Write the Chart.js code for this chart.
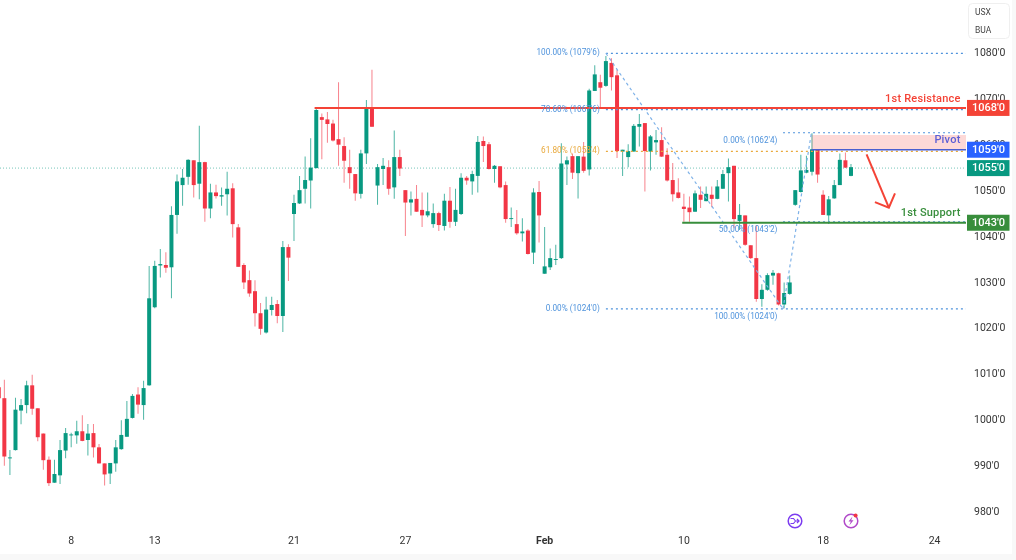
<!DOCTYPE html>
<html><head><meta charset="utf-8">
<style>html,body{margin:0;padding:0;background:#f8f8f8;overflow:hidden}
#w{position:absolute;left:0;top:0;width:1012px;height:554px;background:#fff}canvas{display:block}</style>
<script src="https://cdn.jsdelivr.net/npm/chart.js@4"></script></head>
<body><div id="w"><canvas id="c" width="1012" height="554"></canvas></div>
<script>
const opens=[1007.3,1004.9,991.8,993.6,1002.2,1003.4,1007.7,1002.7,997.2,991.5,
986.5,988.1,993.5,996.8,996.8,997.7,995.8,997.3,994.2,990.7,
988.5,990.7,993.8,996.5,1000.6,1005.7,1003.4,1007.7,1024.7,1033.8,
1033.9,1033.4,1044.8,1051.3,1053.1,1056.7,1051.6,1056.3,1046.2,1049.7,
1048.8,1049.3,1050.6,1042.1,1033.9,1030.6,1028.2,1023.4,1019.2,1024.1,
1025.4,1022.8,1037.8,1045.0,1047.3,1050.5,1052.3,1055.0,1066.1,1065.6,
1064.7,1061.3,1059.8,1055.2,1053.7,1049.4,1058.2,1068.2,1051.2,1054.8,
1055.2,1050.8,1057.4,1050.2,1047.5,1048.3,1045.9,1044.7,1042.8,1045.2,
1042.4,1047.9,1043.3,1045.0,1052.9,1052.1,1053.3,1060.9,1060.2,1054.8,
1055.4,1051.3,1043.9,1042.8,1040.8,1041.4,1036.6,1049.8,1032.0,1033.4,
1035.0,1035.4,1055.8,1057.6,1053.9,1057.5,1054.7,1071.8,1073.7,1072.9,
1077.9,1075.2,1058.6,1057.4,1058.6,1064.0,1064.8,1058.6,1060.6,1061.1,
1057.9,1052.4,1049.7,1046.6,1046.4,1045.5,1049.2,1047.8,1049.2,1048.3,
1050.5,1053.9,1055.5,1043.5,1044.7,1038.2,1035.4,1026.5,1028.5,1031.6,
1032.1,1025.3,1027.6,1047.0,1049.8,1054.0,1054.2,1059.1,1049.2,1044.7,
1048.4,1051.3,1056.7,1053.3];
const closes=[1004.9,992.2,992.0,1002.4,1003.4,1007.7,1002.6,996.4,991.4,986.4,
988.4,993.6,997.3,997.0,997.7,995.6,997.2,994.2,990.7,988.3,
990.8,994.2,996.9,1000.4,1005.4,1003.5,1007.1,1026.65,1033.7,1034.1,
1033.3,1044.8,1052.1,1052.9,1056.8,1051.3,1056.3,1046.2,1049.7,1048.9,
1049.1,1050.5,1042.8,1033.5,1030.1,1027.7,1023.4,1020.0,1024.2,1025.2,
1022.8,1037.8,1035.5,1047.4,1050.2,1052.4,1055.1,1067.65,1065.5,1064.6,
1061.0,1060.1,1056.6,1053.9,1049.5,1058.2,1068.2,1064.0,1055.2,1055.5,
1050.5,1057.4,1054.9,1047.5,1048.2,1045.5,1044.7,1045.6,1045.2,1042.6,
1047.9,1043.3,1045.9,1052.9,1052.3,1053.7,1060.7,1059.8,1054.8,1055.5,
1050.8,1043.9,1044.1,1040.8,1041.2,1036.3,1049.7,1044.7,1033.6,1035.4,
1035.2,1056.0,1056.7,1054.0,1057.6,1054.4,1071.9,1075.4,1072.5,1078.3,
1074.8,1058.7,1059.0,1058.7,1064.2,1064.6,1058.7,1061.9,1061.1,1057.5,
1052.3,1049.3,1048.5,1046.1,1045.4,1049.5,1048.1,1049.4,1048.3,1051.0,
1053.7,1055.2,1043.9,1044.8,1038.3,1035.4,1026.5,1028.5,1031.7,1032.2,
1025.3,1027.8,1030.1,1050.2,1054.5,1054.6,1059.1,1053.6,1044.8,1048.2,
1051.3,1056.8,1055.1,1055.2];
const highs=[1007.4,1008.9,993.6,1005.0,1004.7,1008.7,1010.0,1002.7,997.2,992.2,
991.5,995.8,998.4,997.4,1000.0,1001.2,999.3,999.3,994.9,990.7,
990.8,995.8,1000.1,1004.3,1005.8,1007.3,1008.7,1033.7,1034.85,1037.4,
1036.7,1046.7,1053.6,1054.8,1056.9,1056.7,1064.2,1056.4,1051.6,1051.4,
1050.8,1054.2,1051.7,1042.8,1034.3,1032.7,1030.6,1025.6,1027.0,1027.0,
1026.3,1039.1,1038.4,1049.2,1053.3,1057.5,1061.5,1068.2,1066.9,1067.2,
1065.5,1073.7,1061.7,1059.0,1053.7,1059.0,1069.8,1076.4,1055.9,1057.2,
1056.7,1063.2,1059.0,1050.2,1049.9,1051.3,1049.7,1049.7,1047.3,1045.5,
1049.4,1050.9,1050.5,1053.9,1053.3,1054.4,1062.0,1061.9,1060.7,1055.7,
1055.4,1052.1,1046.4,1045.9,1044.1,1041.7,1050.6,1052.2,1042.2,1037.5,
1038.3,1060.4,1057.5,1058.2,1057.6,1060.7,1072.3,1077.4,1075.3,1079.4,
1078.9,1076.4,1059.0,1060.2,1064.6,1066.8,1064.8,1062.2,1063.3,1063.9,
1059.3,1056.1,1052.8,1049.4,1048.8,1050.1,1051.0,1051.0,1051.0,1052.4,
1054.6,1057.1,1055.5,1047.2,1044.7,1038.2,1042.6,1029.7,1032.1,1032.8,
1032.2,1030.1,1031.6,1050.2,1057.9,1057.7,1062.6,1059.1,1050.2,1048.9,
1052.4,1058.2,1058.4,1055.9];
const lows=[1004.7,990.2,988.2,993.5,999.2,1001.6,1001.3,995.5,989.3,985.8,
986.5,986.2,991.8,994.2,995.0,995.5,992.4,992.0,990.7,985.9,
986.2,988.9,993.7,996.5,1000.5,1001.5,1000.2,1007.6,1024.5,1031.2,
1032.2,1026.65,1040.7,1046.8,1051.4,1048.6,1048.2,1043.3,1044.1,1048.4,
1046.8,1044.7,1039.9,1033.5,1028.7,1027.0,1020.5,1018.7,1019.0,1022.9,
1021.2,1019.3,1030.4,1039.1,1047.2,1047.3,1046.2,1054.95,1056.9,1060.5,
1060.8,1055.5,1051.8,1050.5,1047.9,1048.4,1055.9,1064.0,1047.0,1051.3,
1049.2,1048.3,1053.3,1040.2,1044.7,1045.5,1042.2,1044.3,1042.0,1041.3,
1041.4,1042.0,1042.4,1044.8,1051.4,1049.2,1049.7,1056.3,1054.7,1051.8,
1050.6,1043.1,1042.2,1040.5,1039.0,1036.2,1034.1,1038.8,1032.0,1032.8,
1033.9,1035.2,1051.3,1052.6,1048.4,1054.0,1053.4,1071.8,1068.2,1072.7,
1071.9,1057.2,1053.3,1055.2,1058.6,1059.7,1049.9,1054.5,1057.9,1057.4,
1052.1,1047.7,1048.4,1043.3,1043.3,1045.5,1046.3,1047.8,1046.5,1048.2,
1050.5,1047.7,1041.9,1041.5,1038.1,1035.2,1025.9,1024.8,1028.3,1029.6,
1025.1,1024.5,1027.4,1046.8,1049.7,1053.9,1053.4,1051.8,1044.8,1042.8,
1048.3,1051.3,1055.0,1053.2];

const dateTickBars=[13,28,53,73,98,123,148,168];
const dateTickLabels=['8','13','21','27','Feb','10','18','24'];
const priceTicks=[1080,1070,1060,1050,1040,1030,1020,1010,1000,990,980];

const levelResistance=1068.1, levelPivot=1059.0, pivotTop=1062.2, levelLast=1055.0, levelSupport=1043.1;
const fibHigh=1080.0, fibLow=1024.35, fib786=1067.75, fib618=1058.65, fib2Top=1062.7, fib2Mid=1043.3;

const xMin=0.22, xMax=173.65;
const fibStart=109, swingLow=140.8, swingHigh=145.9;
const arrowShaftX=[155.8,159.8], arrowShaftY=[1058.0,1046.4];
const arrowHeadX=[157.3,159.8,160.9], arrowHeadY=[1047.6,1046.4,1049.5];

const priceTags=[
 {text:"1068'0",value:levelResistance,color:'#F44336'},
 {text:"1059'0",value:levelPivot,color:'#2962FF'},
 {text:"1055'0",value:levelLast,color:'#089981'},
 {text:"1043'0",value:levelSupport,color:'#388E3C'}];

const fibBlue='#4f93dc', fibOrange='#e9a93c';
const fibLabels=[
 {t:"100.00% (1079'6)",x:107.9,y:fibHigh,dy:0,c:fibBlue},
 {t:"78.60% (1067'6)",x:107.9,y:fib786,dy:0,c:fibBlue},
 {t:"61.80% (1058'4)",x:107.9,y:fib618,dy:0,c:fibOrange},
 {t:"0.00% (1024'0)",x:107.9,y:fibLow,dy:0,c:fibBlue},
 {t:"0.00% (1062'4)",x:139.8,y:fib2Top,dy:8,c:fibBlue},
 {t:"50.00% (1043'2)",x:139.8,y:fib2Mid,dy:8,c:fibBlue},
 {t:"100.00% (1024'0)",x:139.8,y:fibLow,dy:8,c:fibBlue}];
const levelLabels=[
 {t:'1st Resistance',y:levelResistance,dy:-9,c:'#F44336'},
 {t:'Pivot',y:levelPivot,dy:-9,c:'#5C5FD6'},
 {t:'1st Support',y:levelSupport,dy:-9,c:'#388E3C'}];

const UP='#089981', DN='#F23645';
const colors=opens.map((o,i)=>closes[i]>=o?UP:DN);
const wickColors=opens.map((o,i)=>closes[i]>=o?'rgba(8,153,129,.72)':'rgba(242,54,69,.62)');
const FONT='Roboto, "Noto Sans", sans-serif';

function seg(xs,ys){return xs.map((x,i)=>({x,y:ys[i]}));}
function hline(x0,y,color,width,dash,order,extra){
  return Object.assign({type:'line',data:[{x:x0,y},{x:xMax,y}],borderColor:color,borderWidth:width,borderDash:dash,pointRadius:0,tension:0,order,fill:false},extra||{});
}
function noPad(a){a.paddingTop=a.paddingBottom=a.paddingLeft=a.paddingRight=0;}

const overlay={id:'overlay',afterDraw(ch){
  const g=ch.ctx,X=ch.scales.x,Y=ch.scales.y;
  g.save();g.textBaseline='middle';
  g.textAlign='right';g.font='8.2px '+FONT;
  fibLabels.forEach(l=>{g.fillStyle=l.c;g.fillText(l.t,X.getPixelForValue(l.x),Y.getPixelForValue(l.y)+l.dy);});
  g.font='500 11px '+FONT;
  if('letterSpacing' in g)g.letterSpacing='0.2px';
  levelLabels.forEach(l=>{g.fillStyle=l.c;g.fillText(l.t,960.5,Y.getPixelForValue(l.y)+l.dy);});
  if('letterSpacing' in g)g.letterSpacing='0px';
  g.textAlign='center';g.font='500 11px '+FONT;
  priceTags.forEach(t=>{const y=Y.getPixelForValue(t.value);
    g.fillStyle=t.color;g.fillRect(967,y-8,42.5,16);
    g.fillStyle='#fff';g.fillText(t.text,988.5,y+0.5);});
  g.strokeStyle='#efefef';g.lineWidth=1;g.fillStyle='#fff';
  g.beginPath();g.roundRect(968.5,3.5,41,35,4);g.fill();g.stroke();
  g.fillStyle='#444';g.font='8.5px '+FONT;g.textAlign='left';
  g.fillText('USX',975,12.5);g.fillText('BUA',975,30.5);
  g.lineWidth=1.5;g.strokeStyle='#7c3cf0';
  g.beginPath();g.arc(795,521,6.8,0,Math.PI*2);g.stroke();
  g.lineWidth=1.2;g.beginPath();g.moveTo(790.5,518.5);g.lineTo(793.5,518.5);g.lineTo(795.5,521);g.lineTo(799,521);
  g.moveTo(790.5,523.5);g.lineTo(793.5,523.5);g.lineTo(795.5,521);
  g.moveTo(797,519);g.lineTo(799,521);g.lineTo(797,523);g.stroke();
  g.lineWidth=1.5;g.strokeStyle='#b14ac9';
  g.beginPath();g.arc(851,521,6.8,0,Math.PI*2);g.stroke();
  g.fillStyle='#b14ac9';g.beginPath();g.moveTo(852.5,516.5);g.lineTo(848.5,521.5);g.lineTo(850.8,521.5);g.lineTo(849.3,525.5);g.lineTo(853.5,520.3);g.lineTo(851.2,520.3);g.closePath();g.fill();
  g.fillStyle='#f23645';g.beginPath();g.arc(855.6,515.6,2,0,Math.PI*2);g.fill();
  g.restore();
}};

const idx=opens.map((_,i)=>i);
new Chart(document.getElementById('c'),{
 type:'bar',
 data:{datasets:[
  hline(xMin,levelLast,'rgba(8,153,129,.55)',1,[1,2],20),
  {type:'bar',grouped:false,data:idx.map(i=>({x:i,y:[lows[i],highs[i]]})),backgroundColor:wickColors,barThickness:1,inflateAmount:0,order:11},
  {type:'bar',grouped:false,data:idx.map(i=>({x:i,y:[Math.min(opens[i],closes[i]),Math.max(opens[i],closes[i])]})),backgroundColor:colors,barThickness:4,inflateAmount:0,order:10},
  hline(fibStart,fibHigh,fibBlue,1.2,[2,3],5),
  hline(fibStart,fib786,fibBlue,1.2,[2,3],5),
  hline(fibStart,fib618,fibOrange,1.2,[2,3],5),
  hline(fibStart,fibLow,fibBlue,1.2,[2,3],5),
  hline(swingLow,fib2Top,fibBlue,1.2,[2,3],5),
  hline(swingLow,fib2Mid,fibBlue,1.2,[2,3],5),
  {type:'line',data:seg([fibStart,swingLow],[fibHigh,fibLow]),borderColor:'#7fb2e8',borderWidth:1.2,borderDash:[3,3],pointRadius:0,order:4,fill:false},
  {type:'line',data:seg([swingLow,swingHigh],[fibLow,fib2Top]),borderColor:'#7fb2e8',borderWidth:1.2,borderDash:[3,3],pointRadius:0,order:4,fill:false},
  hline(swingHigh,levelPivot,'#4a5fd0',1.5,[],3,{fill:{value:pivotTop},backgroundColor:'rgba(244,67,54,.2)'}),
  hline(56.7,levelResistance,'#F44336',2,[],2),
  hline(122.7,levelSupport,'#388E3C',2,[],2),
  {type:'line',data:seg(arrowShaftX,arrowShaftY),borderColor:'#F44336',borderWidth:2,pointRadius:0,order:1,fill:false},
  {type:'line',data:seg(arrowHeadX,arrowHeadY),borderColor:'#F44336',borderWidth:2,pointRadius:0,order:1,fill:false}
 ]},
 options:{
  responsive:false,animation:false,devicePixelRatio:1,
  layout:{padding:0},
  plugins:{legend:{display:false},tooltip:{enabled:false}},
  scales:{
   x:{type:'linear',offset:false,min:xMin,max:xMax,grid:{display:false,drawTicks:false,offset:false},border:{display:false},
      afterFit(a){a.height=24;noPad(a);},
      afterBuildTicks(a){a.ticks=dateTickBars.map(v=>({value:v}));},
      ticks:{autoSkip:false,maxRotation:0,padding:5,color:'#333',
        font:c=>({family:FONT,size:10.5,weight:(c.tick&&c.tick.value===98)?'700':'400'}),
        callback:v=>dateTickLabels[dateTickBars.indexOf(v)]}},
   y:{type:'linear',position:'right',min:976.2,max:1091.6,grid:{display:false,drawTicks:false},border:{display:false},
      afterFit(a){a.width=46;noPad(a);},
      afterBuildTicks(a){a.ticks=priceTicks.map(v=>({value:v}));},
      ticks:{autoSkip:false,padding:8,color:'#333',font:{family:FONT,size:10.5},callback:v=>v+"'0"}}
  }
 },
 plugins:[overlay]
});
</script></body></html>
